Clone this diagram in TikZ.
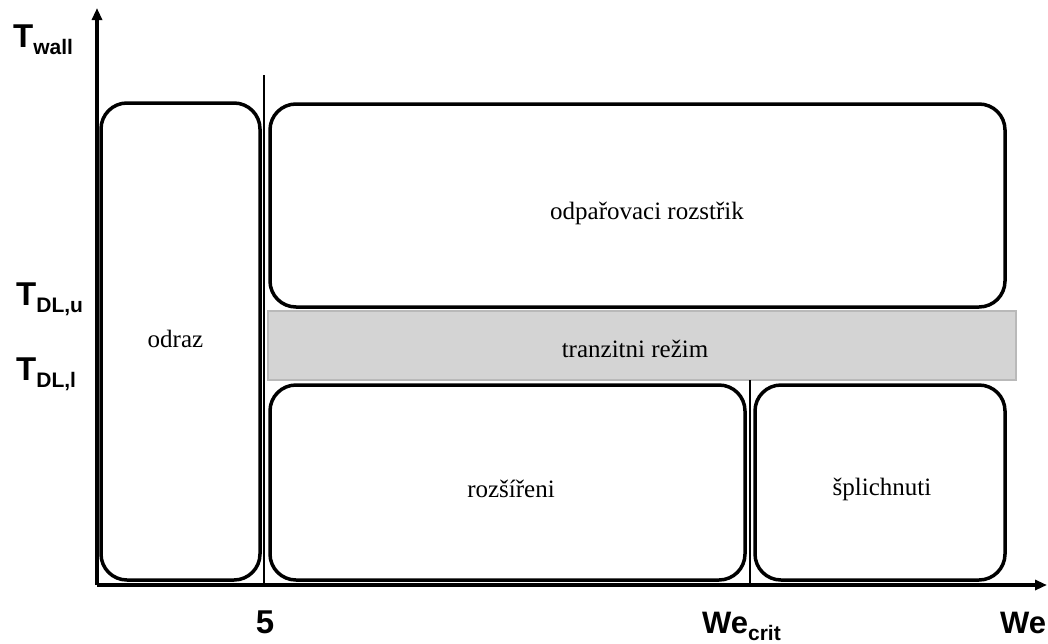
\documentclass[tikz,border=0pt]{standalone}
\usepackage{fontspec}
\setmainfont{Liberation Serif}
\newfontfamily\axisfont{Liberation Sans}
\usetikzlibrary{arrows.meta}

\def\cornersize{26pt}
\def\boxline{3.5pt}
\definecolor{bandfill}{RGB}{212, 212, 212}
\definecolor{banddraw}{RGB}{185, 185, 185}
\newcommand{\subtext}[1]{\raisebox{-7pt}{\fontsize{21}{21}\selectfont #1}}

\begin{document}
\begin{tikzpicture}[x=1pt, y=-1pt,
    regime/.style={draw, rounded corners=\cornersize, line width=\boxline, inner sep=0pt, outer sep=0pt, anchor=north west},
    band/.style={draw=banddraw, fill=bandfill, line width=1.5pt, inner sep=0pt, outer sep=0pt, anchor=north west},
    lbl/.style={font=\fontsize{25}{25}\selectfont, inner sep=0pt, anchor=base},
    axis/.style={line width=3.5pt, -{Triangle[length=12pt, width=10pt]}},
    divider/.style={line width=2.5pt},
    axlabel/.style={font=\axisfont\bfseries\fontsize{33}{33}\selectfont, inner sep=0pt, anchor=base west}
    ]
    \useasboundingbox (0,0) rectangle (1048,643);

    % Define regimes
    \node[regime, minimum width=159pt, minimum height=477pt] (odraz) at (101,103) {};
    \node[regime, minimum width=735pt, minimum height=203pt] (spray) at (270,104) {};
    \node[band, minimum width=748pt, minimum height=69pt] (transit) at (268,311) {};
    \node[regime, minimum width=475pt, minimum height=195pt] (spread) at (270,385) {};
    \node[regime, minimum width=250pt, minimum height=195pt] (splash) at (755,385) {};

    \node[lbl] (odrazlbl) at (175.5,347) {odraz};
    \node[lbl] (spraylbl) at (647,219) {odpařovaci rozstřik};
    \node[lbl] (transitlbl) at (635,357) {tranzitni režim};
    \node[lbl] (spreadlbl) at (511,497) {rozšířeni};
    \node[lbl] (splashlbl) at (882,495) {šplichnuti};

    % Define axes
    \coordinate (origin) at (97,585);
    \coordinate (ytip) at (97,8);
    \coordinate (xtip) at (1047,585);
    \draw[axis] (origin) -- (ytip);
    \draw[axis] (origin) -- (xtip);

    \coordinate (fivetop) at (264,75);
    \coordinate (fivebase) at (264,585);
    \coordinate (crittop) at (750,380);
    \coordinate (critbase) at (750,585);
    \draw[divider] (fivetop) -- (fivebase);
    \draw[divider] (crittop) -- (critbase);

    % Axis labels
    \node[axlabel] (twall) at (13,47) {T\subtext{wall}};
    \node[axlabel] (tdlu) at (16,305) {T\subtext{DL,u}};
    \node[axlabel] (tdll) at (16,380) {T\subtext{DL,l}};
    \node[axlabel, anchor=base] (five) at (265,633) {5};
    \node[axlabel, font=\axisfont\bfseries\fontsize{31}{31}\selectfont] (wecrit) at (702,633) {We\subtext{crit}};
    \node[axlabel, font=\axisfont\bfseries\fontsize{31}{31}\selectfont] (we) at (1000,633) {We};
\end{tikzpicture}
\end{document}
